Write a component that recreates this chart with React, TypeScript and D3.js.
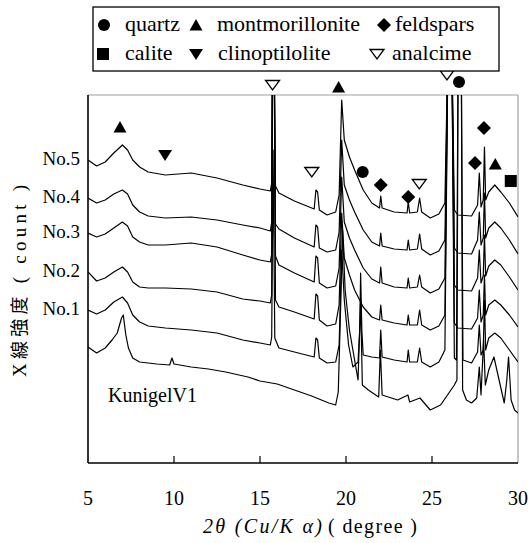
import React from 'react';
import * as d3 from 'd3';

type Pt = [number, number];
const TOP = 420; // peaks running off the top of the frame

const sampleNames = ['No.5', 'No.4', 'No.3', 'No.2', 'No.1'];
const refName = 'KunigelV1';

const no5: Pt[] = [[5.0,303],[5.5,297],[6.0,301],[6.5,310],[7.0,318],[7.3,313],[7.6,303],[8.0,296],[8.5,291],[9.5,288],[11.0,290],[12.5,285],[14.0,278],[15.0,274],[15.6,272],[15.68,280],[15.73,TOP],[15.82,TOP],[15.9,277],[16.1,270],[17.0,262],[18.15,254],[18.25,273],[18.35,271],[18.45,253],[18.9,248],[19.4,251],[19.6,268],[19.75,363],[19.9,323],[20.2,306],[20.5,293],[21.0,273],[21.5,260],[21.95,255],[22.02,267],[22.1,255],[22.8,251],[23.55,250],[23.62,261],[23.7,250],[24.15,251],[24.28,265],[24.4,251],[24.9,245],[25.4,249],[25.75,260],[25.93,TOP],[26.15,TOP],[26.3,253],[26.5,248],[27.3,247],[27.65,258],[27.75,290],[27.85,256],[27.98,263],[28.05,316],[28.12,263],[28.3,271],[28.65,278],[29.0,271],[29.5,260],[30.0,246]];

const no4: Pt[] = [[5.0,265],[5.5,260],[6.0,263],[6.5,269],[7.0,273],[7.3,269],[7.6,258],[8.0,251],[8.5,247],[9.5,245],[11.0,246],[12.5,243],[14.0,238],[15.0,235],[15.6,232],[15.68,241],[15.73,TOP],[15.82,TOP],[15.9,239],[16.1,234],[17.0,225],[18.15,216],[18.25,238],[18.35,236],[18.45,215],[18.9,211],[19.4,213],[19.6,231],[19.75,323],[19.9,278],[20.2,263],[20.5,251],[21.0,233],[21.5,221],[21.95,217],[22.02,230],[22.1,217],[22.8,214],[23.55,213],[23.62,223],[23.7,213],[24.15,214],[24.28,229],[24.4,214],[24.9,208],[25.4,212],[25.75,223],[25.93,TOP],[26.15,TOP],[26.3,215],[26.5,210],[27.3,209],[27.65,223],[27.75,251],[27.85,218],[27.98,225],[28.05,270],[28.12,225],[28.3,235],[28.65,241],[29.0,235],[29.5,223],[30.0,209]];

const no3: Pt[] = [[5.0,230],[5.5,226],[6.0,229],[6.5,235],[7.0,241],[7.3,237],[7.6,226],[8.0,221],[8.5,218],[9.5,218],[11.0,220],[12.5,216],[14.0,208],[15.0,203],[15.6,201],[15.68,209],[15.73,TOP],[15.82,TOP],[15.9,207],[16.1,198],[17.0,190],[18.15,181],[18.25,207],[18.35,205],[18.45,180],[18.9,175],[19.4,177],[19.6,195],[19.75,286],[19.9,241],[20.2,225],[20.5,213],[21.0,195],[21.5,184],[21.95,180],[22.02,196],[22.1,180],[22.8,176],[23.55,175],[23.62,185],[23.7,175],[24.15,176],[24.28,188],[24.4,176],[24.9,170],[25.4,174],[25.75,185],[25.93,TOP],[26.15,TOP],[26.3,178],[26.5,173],[27.3,172],[27.65,185],[27.75,213],[27.85,180],[27.98,187],[28.05,228],[28.12,187],[28.3,197],[28.65,203],[29.0,198],[29.5,186],[30.0,173]];

const no2: Pt[] = [[5.0,191],[5.5,182],[6.0,185],[6.5,191],[7.0,196],[7.3,191],[7.6,181],[8.0,176],[8.5,175],[9.5,175],[11.0,174],[12.5,171],[14.0,164],[15.0,162],[15.6,160],[15.68,168],[15.73,TOP],[15.82,TOP],[15.9,163],[16.1,156],[17.0,151],[18.15,144],[18.25,169],[18.35,167],[18.45,143],[18.9,137],[19.4,139],[19.6,158],[19.75,250],[19.9,205],[20.2,188],[20.5,173],[21.0,156],[21.5,146],[21.95,143],[22.02,158],[22.1,143],[22.8,140],[23.55,138],[23.62,148],[23.7,138],[24.15,138],[24.28,153],[24.4,138],[24.9,133],[25.4,137],[25.75,148],[25.93,TOP],[26.15,TOP],[26.3,140],[26.5,135],[27.3,134],[27.65,145],[27.75,173],[27.85,141],[27.98,148],[28.05,188],[28.12,148],[28.3,158],[28.65,163],[29.0,158],[29.5,148],[30.0,136]];

const no1: Pt[] = [[5.0,153],[5.5,149],[6.0,153],[6.5,161],[7.0,166],[7.3,160],[7.6,148],[8.0,141],[8.5,137],[9.5,135],[11.0,133],[12.5,130],[14.0,123],[15.0,120],[15.6,118],[15.68,126],[15.76,313],[15.86,125],[16.1,115],[17.0,111],[18.15,106],[18.25,125],[18.35,123],[18.45,105],[18.9,100],[19.4,101],[19.6,118],[19.75,213],[19.9,163],[20.15,118],[20.4,96],[20.7,101],[20.8,133],[20.85,190],[20.92,133],[21.0,108],[21.5,106],[21.95,105],[22.02,133],[22.1,106],[22.8,103],[23.55,101],[23.62,113],[23.7,101],[24.15,101],[24.28,115],[24.4,101],[24.9,96],[25.4,101],[25.75,113],[25.93,TOP],[26.15,TOP],[26.3,105],[26.42,103],[26.52,TOP],[26.7,TOP],[26.8,103],[27.3,100],[27.65,111],[27.75,138],[27.85,108],[27.98,113],[28.05,163],[28.12,113],[28.3,125],[28.65,130],[29.0,125],[29.5,113],[30.0,101]];

const kunigel: Pt[] = [[5.0,116],[5.5,110],[6.0,115],[6.4,123],[6.7,130],[6.95,145],[7.05,148],[7.2,128],[7.35,115],[7.6,105],[8.0,101],[9.0,99],[9.75,98],[9.88,105],[10.0,99],[11.0,96],[12.0,94],[13.0,91],[14.3,86],[15.0,82],[16.0,79],[17.0,73],[18.0,67],[19.0,60],[19.4,58],[19.55,71],[19.7,163],[19.8,233],[19.95,173],[20.2,133],[20.5,103],[20.7,83],[20.85,163],[20.95,78],[21.3,73],[21.9,66],[22.0,113],[22.1,68],[23.0,63],[23.6,68],[23.7,61],[24.3,65],[24.9,53],[25.5,58],[25.9,68],[26.3,78],[26.45,83],[26.52,TOP],[26.7,TOP],[26.78,73],[27.0,63],[27.3,60],[27.6,65],[27.75,96],[27.85,68],[28.0,123],[28.1,78],[28.3,93],[28.6,106],[28.9,83],[29.2,60],[29.35,83],[29.45,106],[29.6,63],[29.8,53],[30.0,50]];

const traces: Pt[][] = [no5, no4, no3, no2, no1, kunigel];

const xTicks = [5, 10, 15, 20, 25, 30];

// phase markers (symbol, 2θ, height)
const markerTypes = ['triDownOpen','triUp','triDownOpen','circle','triUp','triDown','triDownOpen','circle','diamond','diamond','triDownOpen','diamond','diamond','triUp','square'];
const markerTheta = [15.73,19.57,25.87,26.57,6.86,9.48,18.01,20.97,22.02,23.62,24.26,28.02,27.50,28.68,29.58];
const markerCount = [378,376,388,381,336,308,291,291,278,266,279,335,300,299,282];

const legendLabels = ['quartz','montmorillonite','feldspars','calite','clinoptilolite','analcime'];
const legendTypes = ['circle','triUp','diamond','square','triDown','triDownOpen'];

const SERIF = 'Liberation Serif';
const CJK = 'Noto Sans CJK JP';

function Marker({ type, cx, cy }: { type: string; cx: number; cy: number }) {
  switch (type) {
    case 'circle':
      return <circle cx={cx} cy={cy} r={6} fill="#000" />;
    case 'square':
      return <rect x={cx - 6} y={cy - 6} width={12} height={12} fill="#000" />;
    case 'diamond':
      return <path d={`M${cx},${cy - 7}L${cx + 7},${cy}L${cx},${cy + 7}L${cx - 7},${cy}Z`} fill="#000" />;
    case 'triUp':
      return <path d={`M${cx},${cy - 6}L${cx + 6.5},${cy + 5.5}L${cx - 6.5},${cy + 5.5}Z`} fill="#000" />;
    case 'triDown':
      return <path d={`M${cx - 7},${cy - 5}L${cx + 7},${cy - 5}L${cx},${cy + 6}Z`} fill="#000" />;
    default:
      return <path d={`M${cx - 7},${cy - 4.5}L${cx + 7},${cy - 4.5}L${cx},${cy + 5}Z`} fill="#fff" stroke="#000" strokeWidth={1.3} />;
  }
}

export default function App() {
  const W = 531, H = 543;
  const left = 88, right = 518, top = 95, bottom = 463;
  const x = d3.scaleLinear().domain([5, 30]).range([left, right]);
  const y = d3.scaleLinear().domain([0, 368]).range([bottom, top]);
  const line = d3.line<Pt>().x(d => x(d[0])).y(d => y(d[1]));

  const legendCols = [[104, 125], [196, 217], [384, 395], [103, 125], [196, 218], [377, 392]];
  const legendY = [31, 31, 31, 60, 60, 60];
  const serif = { fontFamily: SERIF };

  return (
    <svg width={W} height={H} style={{ position: 'absolute', left: 0, top: 0, background: '#fff' }}>
      <rect x={0} y={0} width={W} height={H} fill="#fff" />
      <defs>
        <clipPath id="plotClip">
          <rect x={left} y={top} width={right - left} height={bottom - top} />
        </clipPath>
      </defs>

      {/* frame */}
      <line x1={left} y1={top} x2={right} y2={top} stroke="#a0a0a0" strokeWidth={1.2} />
      <line x1={right} y1={top} x2={right} y2={bottom} stroke="#a0a0a0" strokeWidth={1.2} />

      {/* traces */}
      <g clipPath="url(#plotClip)">
        {traces.map((t, i) => (
          <path key={i} d={line(t) || ''} fill="none" stroke="#000" strokeWidth={1.2} strokeLinejoin="round" />
        ))}
      </g>

      {/* axes */}
      <line x1={left} y1={top} x2={left} y2={bottom} stroke="#000" strokeWidth={1.6} />
      <line x1={left} y1={bottom} x2={right} y2={bottom} stroke="#000" strokeWidth={1.6} />
      {xTicks.map(v => (
        <g key={v}>
          {v > 5 && v < 30 && <line x1={x(v)} x2={x(v)} y1={bottom} y2={bottom - 7} stroke="#000" strokeWidth={1.2} />}
          <text x={x(v)} y={505} fontSize={20} textAnchor="middle" style={serif}>{v}</text>
        </g>
      ))}

      {/* x title */}
      <text x={203} y={533} fontSize={20} fontStyle="italic" textLength={119} lengthAdjust="spacing" style={serif}>2θ (Cu/K α)</text>
      <text x={328} y={533} fontSize={20} textLength={89} lengthAdjust="spacing" style={serif}>( degree )</text>

      {/* y title */}
      <text transform="translate(26,377) rotate(-90)" fontSize={19} textLength={192} lengthAdjust="spacing" style={serif}>
        <tspan style={serif}>X</tspan><tspan style={{ fontFamily: CJK }} fontSize={18}>線強度</tspan><tspan style={serif}> ( count )</tspan>
      </text>

      {/* sample labels */}
      {sampleNames.map((n, i) => (
        <text key={n} x={80} y={y(traces[i][0][1]) + 5} fontSize={19} textAnchor="end" style={serif}>{n}</text>
      ))}
      <text x={108} y={402} fontSize={20} style={serif}>{refName}</text>

      {/* phase markers */}
      {markerTypes.map((t, i) => (
        <Marker key={i} type={t} cx={x(markerTheta[i])} cy={y(markerCount[i])} />
      ))}

      {/* legend */}
      <rect x={93} y={7} width={406} height={64} fill="#fff" stroke="#000" strokeWidth={1.3} />
      {legendLabels.map((lab, i) => (
        <g key={lab}>
          <Marker type={legendTypes[i]} cx={legendCols[i][0]} cy={legendY[i] - 6} />
          <text x={legendCols[i][1]} y={legendY[i]} fontSize={22} style={serif}>{lab}</text>
        </g>
      ))}
    </svg>
  );
}
